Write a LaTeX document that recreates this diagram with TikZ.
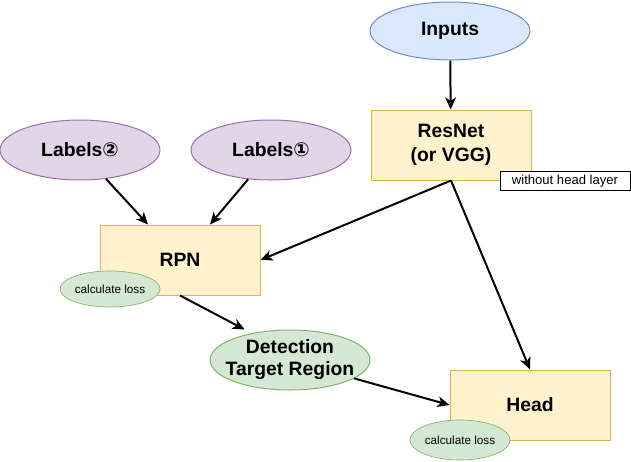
\documentclass[tikz,border=0pt]{standalone}
\usepackage{fontspec}
\setmainfont{Liberation Sans}
\newfontfamily\symfont{DejaVu Sans}
\usetikzlibrary{shapes.geometric,arrows.meta,positioning}
\definecolor{boxfill}  {HTML}{FFF2CC}
\definecolor{boxline}  {HTML}{D6B656}
\definecolor{labfill}  {HTML}{E1D5E7}
\definecolor{labline}  {HTML}{9673A6}
\definecolor{infill}   {HTML}{DAE8FC}
\definecolor{inline}   {HTML}{6C8EBF}
\definecolor{regfill}  {HTML}{D5E8D4}
\definecolor{regline}  {HTML}{82B366}
\tikzset{
  blk/.style  ={rectangle,draw=boxline,fill=boxfill,line width=0.75pt,
                 minimum width=120pt,minimum height=52.5pt,
                 align=center,font=\bfseries\fontsize{14.5}{18}\selectfont},
  ell/.style  ={ellipse,line width=0.75pt,inner sep=0pt,
                 minimum width=120pt,minimum height=45pt,
                 align=center,font=\bfseries\fontsize{14.5}{16.5}\selectfont},
  loss/.style ={ellipse,draw=regline,fill=regfill,line width=0.5pt,
                 inner sep=0pt,minimum width=75pt,minimum height=27pt,
                 font=\fontsize{8.8}{10}\selectfont},
  note/.style ={rectangle,draw,fill=white,line width=0.75pt,
                 minimum width=97.5pt,minimum height=14.25pt,inner sep=1pt,
                 font=\fontsize{9.8}{11}\selectfont},
  sig/.style  ={-{Stealth[length=9pt,width=8pt,inset=2.5pt]},line width=1.5pt},
}

\begin{document}
\begin{tikzpicture}[x=0.75pt,y=-0.75pt]
  \useasboundingbox (0,0) rectangle (631,461);
  \node[ell,draw=inline,fill=infill,minimum height=43.5pt]
                               (inp)  at (450,31)  {Inputs};
  \node[blk]                   (res)  at (451,145) {ResNet\\(or VGG)};
  \node[note]                  (nohd) at (565,181) {without head layer};
  \node[ell,draw=labline,fill=labfill]
                               (lab2) at (80,150)  {Labels{\symfont②}};
  \node[ell,draw=labline,fill=labfill,right=22.5pt of lab2]
                               (lab1) {Labels{\symfont①}};
  \node[blk]                   (rpn)  at (180,260) {RPN};
  \node[loss]                  (lossr) at (110,289) {calculate loss};
  \node[ell,draw=regline,fill=regfill,inner xsep=-9pt,inner ysep=-2pt]
                               (dtr)  at (290,360) {Detection\\Target Region};
  \node[blk]                   (head) at (530,405) {Head};
  \node[loss,minimum height=30pt]
                               (lossh) at (460,440) {calculate loss};
  \draw[sig](inp)  -- (res);
  \draw[sig](lab2.-48)  -- ([xshift=-24pt]rpn.north);
  \draw[sig](lab1.-128) -- ([xshift=22.5pt]rpn.north);
  \draw[sig](res.south) -- (rpn.east);
  \draw[sig](res.south) -- (head.north);
  \draw[sig](rpn.south) -- ([xshift=-34pt]dtr.north);
  \draw[sig](dtr.-16)   -- (head.west);
\end{tikzpicture}
\end{document}
